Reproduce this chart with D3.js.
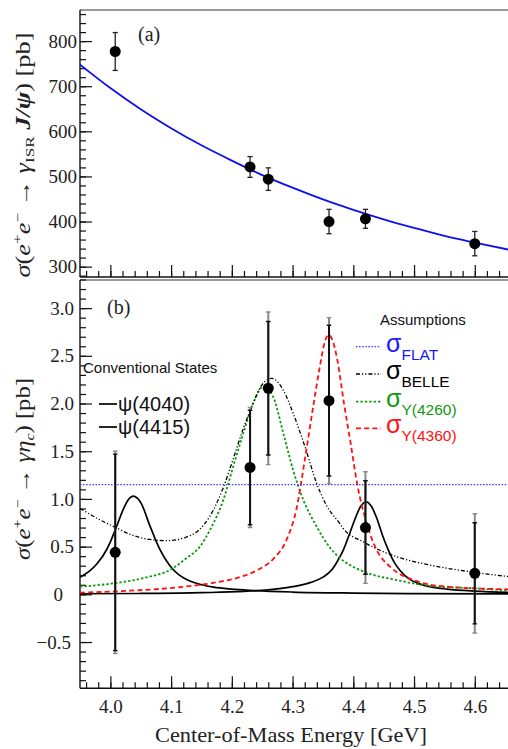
<!DOCTYPE html>
<html><head><meta charset="utf-8">
<script src="https://cdn.jsdelivr.net/npm/d3@7"></script>
<style>body{margin:0;background:#fff} svg{display:block}</style>
</head><body>
<svg id="c" width="508" height="749"></svg>
<script>
// ---------- data ----------
// panel (a): e+e- -> gamma_ISR J/psi
const energiesA = [4.008, 4.23, 4.26, 4.36, 4.42, 4.60];
const xsecA = [777, 521, 494, 400, 406, 351];
const errA = [42, 23, 25, 27, 21, 27];
const fitA = [[3.95,748],[4.0,696],[4.05,649],[4.1,607],[4.15,569],[4.2,535],[4.25,503],[4.3,475],[4.35,449],[4.4,426],[4.45,405],[4.5,386],[4.55,368],[4.6,353],[4.658,337]];
const yTicksA = [300, 400, 500, 600, 700, 800];
const yTickLabelsA = ["300", "400", "500", "600", "700", "800"];

// panel (b): e+e- -> gamma eta_c
const energiesB = [4.008, 4.23, 4.26, 4.36, 4.42, 4.60];
const xsecB = [0.44, 1.33, 2.16, 2.03, 0.70, 0.22];
const statB = [1.03, 0.60, 0.70, 0.79, 0.49, 0.53];
const totB = [1.06, 0.63, 0.80, 0.87, 0.585, 0.625];
const flatB = 1.15;
const psi4040 = [[3.95,0.18],[3.965,0.24],[3.978,0.32],[3.994,0.47],[4.0,0.55],[4.009,0.69],[4.024,0.93],[4.032,1.01],[4.038,1.03],[4.044,1.01],[4.051,0.95],[4.065,0.72],[4.0815,0.47],[4.098,0.30],[4.112,0.21],[4.1255,0.155],[4.15,0.10],[4.17,0.075],[4.2,0.055],[4.23,0.042],[4.3,0.024],[4.4,0.013],[4.5,0.008],[4.658,0.005]];
const psi4415 = [[3.95,0.006],[4.05,0.009],[4.15,0.017],[4.22,0.03],[4.26,0.048],[4.3,0.08],[4.33,0.125],[4.35,0.18],[4.365,0.26],[4.375,0.36],[4.3835,0.464],[4.393,0.62],[4.4028,0.79],[4.412,0.92],[4.421,0.97],[4.43,0.92],[4.4385,0.80],[4.448,0.62],[4.4577,0.464],[4.468,0.33],[4.477,0.25],[4.49,0.17],[4.5044,0.12],[4.53,0.075],[4.554,0.055],[4.6,0.034],[4.658,0.02]];
const belle = [[3.95,0.90],[3.983,0.78],[4.009,0.70],[4.032,0.63],[4.06,0.58],[4.093,0.562],[4.125,0.60],[4.145,0.67],[4.164,0.82],[4.186,1.12],[4.2023,1.42],[4.219,1.74],[4.235,2.0],[4.249,2.19],[4.2656,2.264],[4.2847,2.14],[4.301,1.897],[4.3204,1.547],[4.3397,1.163],[4.356,0.93],[4.378,0.74],[4.3835,0.69],[4.4165,0.55],[4.4715,0.394],[4.526,0.307],[4.6,0.23],[4.658,0.185]];
const y4260 = [[3.95,0.08],[4.005,0.115],[4.06,0.178],[4.098,0.255],[4.1255,0.38],[4.1474,0.50],[4.164,0.674],[4.186,0.99],[4.2023,1.34],[4.219,1.69],[4.235,2.0],[4.2517,2.176],[4.268,2.07],[4.2847,1.69],[4.301,1.30],[4.3177,0.99],[4.3397,0.71],[4.3616,0.49],[4.378,0.38],[4.3946,0.307],[4.422,0.227],[4.4715,0.15],[4.526,0.087],[4.6,0.063],[4.658,0.038]];
const y4360 = [[3.95,0.017],[4.032,0.038],[4.1145,0.075],[4.169,0.12],[4.213,0.18],[4.241,0.25],[4.268,0.37],[4.29,0.57],[4.3066,0.90],[4.3204,1.42],[4.334,1.97],[4.345,2.39],[4.352,2.62],[4.359,2.72],[4.366,2.66],[4.3737,2.456],[4.3847,2.0],[4.3957,1.58],[4.4066,1.15],[4.422,0.744],[4.4385,0.464],[4.4605,0.29],[4.4989,0.15],[4.554,0.08],[4.658,0.052]];
const yTicksB = [-0.5, 0, 0.5, 1.0, 1.5, 2.0, 2.5, 3.0];
const yTickLabelsB = ["\u22120.5", "0", "0.5", "1.0", "1.5", "2.0", "2.5", "3.0"];

const xTicks = [4.0, 4.1, 4.2, 4.3, 4.4, 4.5, 4.6];
const xTickLabels = ["4.0", "4.1", "4.2", "4.3", "4.4", "4.5", "4.6"];

// ---------- drawing ----------
const svg = d3.select("#c");
const SERIF = "'Liberation Serif', 'Times New Roman', serif";
const SANS = "'Liberation Sans', Arial, Helvetica, sans-serif";

const L = 80, R = 510;
const topA = 10, botA = 277, topB = 280, botB = 688.3;
const x = d3.scaleLinear().domain([3.95, 4.658]).range([L, R]);
const yA = d3.scaleLinear().domain([277, 869]).range([botA, topA]);
const yB = d3.scaleLinear().domain([-0.985, 3.3]).range([botB, 279.5]);

const defs = svg.append("defs");
defs.append("clipPath").attr("id","clipA").append("rect").attr("x",L).attr("y",topA).attr("width",R-L).attr("height",botA-topA);
defs.append("clipPath").attr("id","clipB").append("rect").attr("x",L).attr("y",topB).attr("width",R-L).attr("height",botB-topB);

function styleAxis(g){
  g.select(".domain").remove();
  g.selectAll(".tick line").attr("stroke","#111").attr("stroke-width",1.2);
  g.selectAll(".tick text").attr("font-family",SERIF).attr("font-size",19).attr("fill","#222");
}
function minorRange(a,b,s){ const r=[]; for(let v=a; v<=b+1e-9; v+=s) r.push(+v.toFixed(4)); return r; }

// frames
function frame(t,b){
  svg.append("line").attr("x1",L).attr("x2",R).attr("y1",t).attr("y2",t).attr("stroke","#777").attr("stroke-width",1.5);
  svg.append("line").attr("x1",L).attr("x2",L).attr("y1",t).attr("y2",b).attr("stroke","#111").attr("stroke-width",1.4);
  svg.append("line").attr("x1",L).attr("x2",R).attr("y1",b).attr("y2",b).attr("stroke","#111").attr("stroke-width",1.4);
}
frame(topA, botA);
frame(topB, botB);

// axes panel A
svg.append("g").attr("transform",`translate(${L},0)`).call(d3.axisLeft(yA).tickValues(minorRange(280,860,20)).tickSize(-6).tickFormat("")).call(styleAxis);
svg.append("g").attr("transform",`translate(${L},0)`).call(d3.axisLeft(yA).tickValues(yTicksA).tickSize(-12).tickPadding(3).tickFormat((d,i)=>yTickLabelsA[i])).call(styleAxis);
svg.append("g").attr("transform",`translate(0,${botA})`).call(d3.axisBottom(x).tickValues(minorRange(3.96,4.64,0.02)).tickSize(-6).tickFormat("")).call(styleAxis);
svg.append("g").attr("transform",`translate(0,${botA})`).call(d3.axisBottom(x).tickValues(xTicks).tickSize(-12).tickFormat("")).call(styleAxis);

// axes panel B
svg.append("g").attr("transform",`translate(${L},0)`).call(d3.axisLeft(yB).tickValues(minorRange(-0.9,3.3,0.1)).tickSize(-6).tickFormat("")).call(styleAxis);
const yAxB = svg.append("g").attr("transform",`translate(${L},0)`).call(d3.axisLeft(yB).tickValues(yTicksB).tickSize(-12).tickPadding(6).tickFormat((d,i)=>yTickLabelsB[i])).call(styleAxis);
yAxB.selectAll(".tick text").filter(d=>d===0).attr("x",-17);
yAxB.selectAll(".tick text").filter(d=>d===-0.5).attr("x",-9);
svg.append("g").attr("transform",`translate(0,${botB})`).call(d3.axisBottom(x).tickValues(minorRange(3.96,4.64,0.02)).tickSize(-6).tickFormat("")).call(styleAxis);
svg.append("g").attr("transform",`translate(0,${botB})`).call(d3.axisBottom(x).tickValues(xTicks).tickSize(-12).tickPadding(11).tickFormat((d,i)=>xTickLabels[i])).call(styleAxis);

// ---------- panel A content ----------
const gA = svg.append("g").attr("clip-path","url(#clipA)");
const lineA = d3.line().x(d=>x(d[0])).y(d=>yA(d[1])).curve(d3.curveMonotoneX);
gA.append("path").attr("d",lineA(fitA)).attr("fill","none").attr("stroke","#1010ee").attr("stroke-width",1.8);
energiesA.forEach((e,i)=>{
  const cx = x(e), y1 = yA(xsecA[i]+errA[i]), y2 = yA(xsecA[i]-errA[i]);
  gA.append("line").attr("x1",cx).attr("x2",cx).attr("y1",y1).attr("y2",y2).attr("stroke","#222").attr("stroke-width",1.3);
  [y1,y2].forEach(yy=>gA.append("line").attr("x1",cx-2.6).attr("x2",cx+2.6).attr("y1",yy).attr("y2",yy).attr("stroke","#222").attr("stroke-width",1.3));
  gA.append("circle").attr("cx",cx).attr("cy",yA(xsecA[i])).attr("r",5.5).attr("fill","#000");
});

// ---------- panel B content ----------
const gB = svg.append("g").attr("clip-path","url(#clipB)");
const lineB = d3.line().x(d=>x(d[0])).y(d=>yB(d[1])).curve(d3.curveMonotoneX);
const styles = {
  flat:  {stroke:"#3a3aff", w:1.3, dash:"1.5,1.6"},
  belle: {stroke:"#000", w:1.3, dash:"4,2,1.2,2,1.2,2"},
  g4260: {stroke:"#109910", w:1.8, dash:"2.4,2"},
  r4360: {stroke:"#ff1010", w:1.8, dash:"5,3.2"},
  psi:   {stroke:"#000", w:1.7, dash:null}
};
function drawCurve(data, st){
  const p = gB.append("path").attr("d",lineB(data)).attr("fill","none").attr("stroke",st.stroke).attr("stroke-width",st.w);
  if(st.dash) p.attr("stroke-dasharray",st.dash);
}
drawCurve(psi4040, styles.psi);
drawCurve(psi4415, styles.psi);
drawCurve(y4260, styles.g4260);
drawCurve(belle, styles.belle);
drawCurve(y4360, styles.r4360);
gB.append("line").attr("x1",L).attr("x2",R).attr("y1",yB(flatB)).attr("y2",yB(flatB))
  .attr("stroke",styles.flat.stroke).attr("stroke-width",styles.flat.w).attr("stroke-dasharray",styles.flat.dash);

energiesB.forEach((e,i)=>{
  const cx = x(e), v = xsecB[i];
  const t1 = yB(v+totB[i]), t2 = yB(v-totB[i]);
  const s1 = yB(v+statB[i]), s2 = yB(v-statB[i]);
  gB.append("line").attr("x1",cx).attr("x2",cx).attr("y1",t1).attr("y2",t2).attr("stroke","#8a8a8a").attr("stroke-width",2);
  [t1,t2].forEach(yy=>gB.append("line").attr("x1",cx-2.3).attr("x2",cx+2.3).attr("y1",yy).attr("y2",yy).attr("stroke","#8a8a8a").attr("stroke-width",1.4));
  gB.append("line").attr("x1",cx).attr("x2",cx).attr("y1",s1).attr("y2",s2).attr("stroke","#111").attr("stroke-width",2);
  [s1,s2].forEach(yy=>gB.append("line").attr("x1",cx-2.3).attr("x2",cx+2.3).attr("y1",yy).attr("y2",yy).attr("stroke","#111").attr("stroke-width",1.4));
  gB.append("circle").attr("cx",cx).attr("cy",yB(v)).attr("r",5.5).attr("fill","#000");
});

// ---------- texts ----------
function rich(parent, parts, attrs){
  const t = parent.append("text");
  Object.entries(attrs).forEach(([k,v])=>t.attr(k,v));
  parts.forEach(p=>{
    const s = t.append("tspan").text(p.t);
    if(p.i) s.attr("font-style","italic");
    if(p.b) s.attr("font-weight","bold");
    if(p.fs) s.attr("font-size",p.fs);
    if(p.dy) s.attr("dy",p.dy);
    if(p.fill) s.attr("fill",p.fill);
    if(p.ff) s.attr("font-family",p.ff);
  });
  return t;
}

// panel labels
svg.append("text").attr("x",138).attr("y",41).attr("font-family",SERIF).attr("font-size",20).attr("fill","#222").text("(a)");
svg.append("text").attr("x",107).attr("y",314).attr("font-family",SERIF).attr("font-size",20).attr("fill","#222").text("(b)");

// y titles
const titA = svg.append("g").attr("transform","translate(30,155) rotate(-90)");
rich(titA, [
  {t:"\u03C3", i:1}, {t:"("}, {t:"e", i:1}, {t:"+", fs:13, dy:-8}, {t:"e", i:1, dy:8}, {t:"\u2212", fs:13, dy:-8},
  {t:" \u2192 ", dy:8}, {t:"\u03B3", i:1}, {t:"ISR", fs:13, dy:4}, {t:" J/\u03C8", i:1, b:1, dy:-4}, {t:") [pb]"}
], {"text-anchor":"middle","font-family":SERIF,"font-size":20,"fill":"#222","textLength":245,"lengthAdjust":"spacingAndGlyphs"});

const titB = svg.append("g").attr("transform","translate(30,469) rotate(-90)");
rich(titB, [
  {t:"\u03C3", i:1}, {t:"("}, {t:"e", i:1}, {t:"+", fs:13, dy:-8}, {t:"e", i:1, dy:8}, {t:"\u2212", fs:13, dy:-8},
  {t:" \u2192 ", dy:8}, {t:"\u03B3\u03B7", i:1}, {t:"c", i:1, fs:13, dy:4}, {t:") [pb]", dy:-4}
], {"text-anchor":"middle","font-family":SERIF,"font-size":20,"fill":"#222","textLength":182,"lengthAdjust":"spacingAndGlyphs"});

// x title
svg.append("text").attr("x",291).attr("y",742).attr("text-anchor","middle").attr("font-family",SERIF).attr("font-size",21)
  .attr("fill","#222").attr("textLength",272).attr("lengthAdjust","spacingAndGlyphs").text("Center-of-Mass Energy [GeV]");

// legend: conventional states
svg.append("text").attr("x",83).attr("y",373).attr("font-family",SANS).attr("font-size",15).attr("fill","#111").text("Conventional States");
const psiLabels = ["\u03C8(4040)", "\u03C8(4415)"];
const psiY = [404, 427];
psiLabels.forEach((lab,i)=>{
  svg.append("line").attr("x1",99).attr("x2",117).attr("y1",psiY[i]).attr("y2",psiY[i]).attr("stroke","#000").attr("stroke-width",1.7);
  svg.append("text").attr("x",118).attr("y",psiY[i]+6.5).attr("font-family",SANS).attr("font-size",20).attr("fill","#111").text(lab);
});

// legend: assumptions
svg.append("text").attr("x",380).attr("y",324.5).attr("font-family",SANS).attr("font-size",15).attr("fill","#111").text("Assumptions");
const assumpSubs = ["FLAT", "BELLE", "Y(4260)", "Y(4360)"];
const assumpColors = ["#1a1aff", "#000", "#109910", "#ff1010"];
const assumpStyles = [styles.flat, styles.belle, styles.g4260, styles.r4360];
const assumpY = [346.7, 374, 401.7, 428.3];
assumpSubs.forEach((s,i)=>{
  const st = assumpStyles[i];
  const ln = svg.append("line").attr("x1",356).attr("x2",381).attr("y1",assumpY[i]).attr("y2",assumpY[i]).attr("stroke",st.stroke).attr("stroke-width",st.w);
  if(st.dash) ln.attr("stroke-dasharray",st.dash);
  rich(svg, [{t:"\u03C3", fs:25}, {t:s, fs:15.5, dy:8}], {"x":386,"y":assumpY[i]+5,"font-family":SANS,"fill":assumpColors[i]});
});
</script>
</body></html>
